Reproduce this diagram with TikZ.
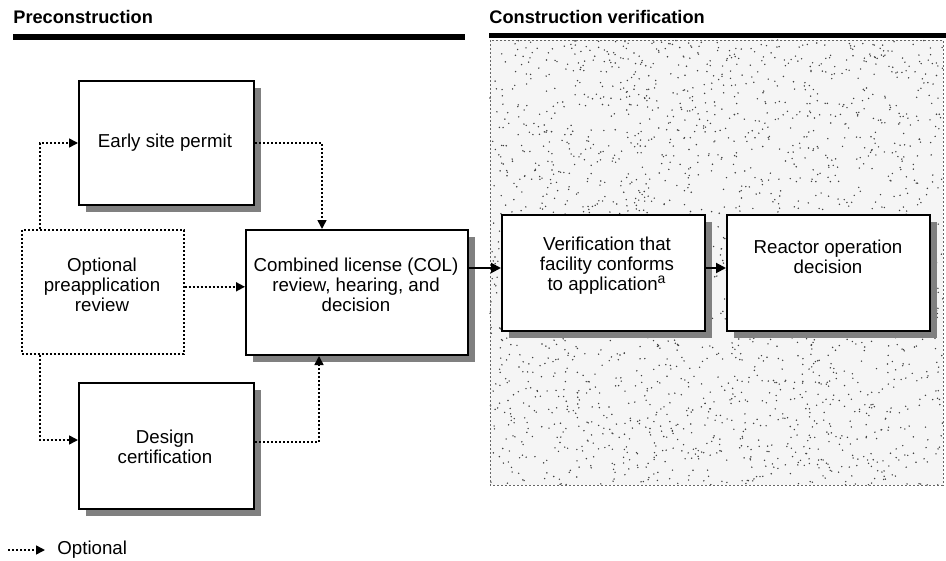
\documentclass[tikz,border=0pt]{standalone}
\usepackage{fontspec}
\setmainfont{Liberation Sans}
\usetikzlibrary{arrows.meta,shadows,calc}
\begin{document}
\begin{tikzpicture}[x=0.5pt,y=-0.5pt,
  box/.style={draw, line width=1pt, fill=white, inner sep=0pt, anchor=north west,
    drop shadow={shadow xshift=3.5pt, shadow yshift=-3.5pt, fill=black!50, opacity=1}},
  optbox/.style={draw, line width=0.8pt, dash pattern=on 1pt off 1pt, inner sep=0pt, anchor=north west},
  txt/.style={align=center, font=\fontsize{9.35}{10}\selectfont, inner sep=0pt},
  optarrow/.style={line width=0.8pt, dash pattern=on 1pt off 1pt, -{Triangle[length=4.5pt,width=4.5pt]}},
  solidarrow/.style={line width=1pt, -{Triangle[length=5pt,width=5pt]}},
  ttl/.style={font=\fontsize{9.1}{10}\selectfont\bfseries, anchor=base west, inner sep=0pt}]
\useasboundingbox (0,0) rectangle (946,561);
\fill[white] (0,0) rectangle (946,561);

% stippled construction region
\fill[black!4] (490,40) rectangle (943,485);
\pgfmathsetseed{7}
\foreach \i in {1,...,2400}{\fill[black!75] ({490+453*rnd},{40+445*rnd}) circle (0.4pt);}
\draw[black!60, line width=0.4pt, dash pattern=on 1pt off 1pt] (490,40) rectangle (943,485);

% titles
\node[ttl] (t1) at (13,24) {Preconstruction};
\node[ttl] (t2) at (489,24) {Construction verification};
\draw[line width=3pt] (13,37.5) -- (465,37.5);
\draw[line width=2.5pt] (489,35.5) -- (946,35.5);

% boxes
\node[box, minimum width=87.5pt, minimum height=62pt] (esp) at (78,80) {};
\node[optbox, minimum width=81pt, minimum height=62pt] (opt) at (21,229) {};
\node[box, minimum width=111pt, minimum height=62.5pt] (col) at (245,229) {};
\node[box, minimum width=87.5pt, minimum height=63pt] (dc) at (78,382) {};
\node[box, minimum width=101.5pt, minimum height=58pt] (ver) at (501,214) {};
\node[box, minimum width=101.5pt, minimum height=58pt] (rod) at (726,214) {};

% texts
\node[txt] (espt) at (165,143) {Early site permit};
\node[txt] (optt) at (102,285) {Optional\\preapplication\\review};
\node[txt] (colt) at (356,285) {Combined license (COL)\\review, hearing, and\\decision};
\node[txt] (dct) at (165,447) {Design\\certification};
\node[txt] (vert) at (607,266) {Verification that\\facility conforms\\to application\textsuperscript{\scriptsize a}};
\node[txt] (rodt) at (828,257) {Reactor operation\\decision};

% connectors
\draw[optarrow] ([xshift=9.5pt]opt.north west) |- (esp.west);
\draw[optarrow] (esp.east) -| ([xshift=38.5pt]col.north west);
\coordinate (oe) at ([yshift=2.5pt]opt.east);
\draw[optarrow] (oe) -- (oe -| col.west);
\draw[optarrow] ([xshift=9.5pt]opt.south west) |- ([yshift=3pt]dc.west);
\draw[optarrow] ([yshift=2pt]dc.east) -| ([xshift=37pt]col.south west);
\coordinate (vw) at ([yshift=2.5pt]ver.west);
\draw[solidarrow] (vw -| col.east) -- (vw);
\coordinate (rw) at ([yshift=2.5pt]rod.west);
\draw[solidarrow] (rw -| ver.east) -- (rw);

% legend
\coordinate (l1) at (8,550);
\coordinate (l2) at (45,550);
\draw[optarrow] (l1) -- (l2);
\node[txt, anchor=west] (lt) at (57,550) {Optional};
\end{tikzpicture}
\end{document}
